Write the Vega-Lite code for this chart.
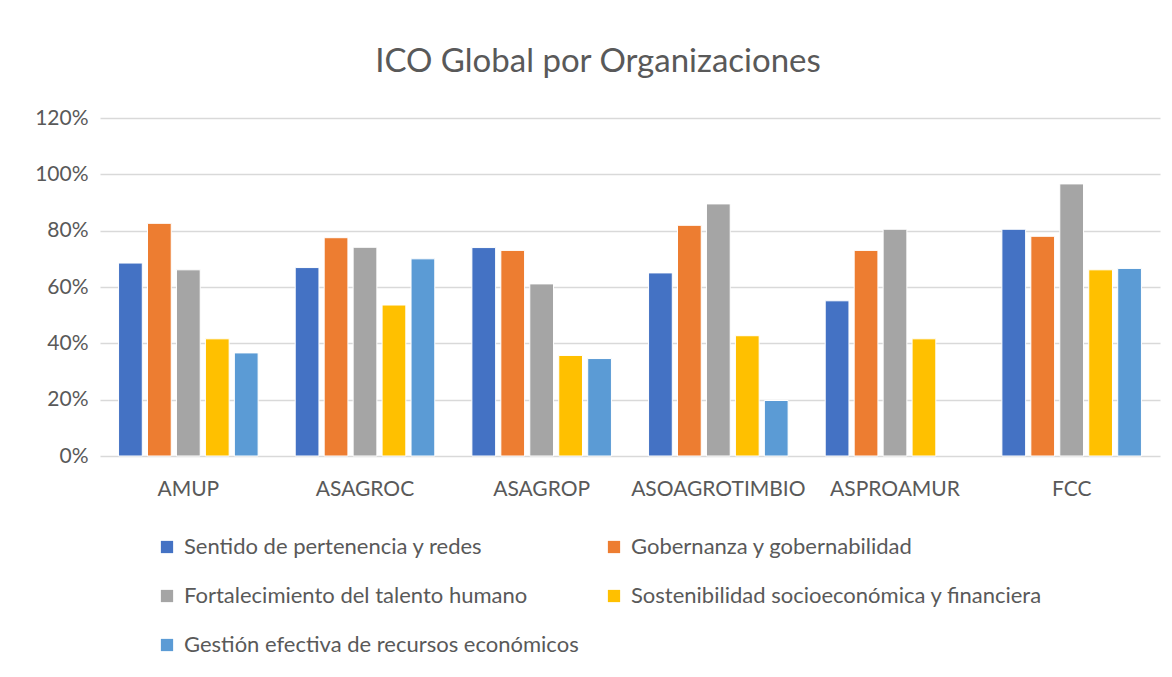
{
  "$schema": "https://vega.github.io/schema/vega-lite/v6.json",
  "autosize": {"type": "none"},
  "width": 1060,
  "height": 338,
  "padding": {"left": 100, "top": 118, "right": 12, "bottom": 221},
  "background": "white",
  "title": {
    "text": "ICO Global por Organizaciones",
    "anchor": "middle",
    "font": "Lato",
    "fontSize": 33,
    "fontWeight": "normal",
    "color": "#595959",
    "offset": 28,
    "dx": -32
  },
  "config": {
    "view": {"stroke": null},
    "font": "Lato"
  },
  "data": {
    "values": [
      {"org": "AMUP", "dim": "Sentido de pertenencia y redes", "value": 0.685},
      {"org": "AMUP", "dim": "Gobernanza y gobernabilidad", "value": 0.826},
      {"org": "AMUP", "dim": "Fortalecimiento del talento humano", "value": 0.661},
      {"org": "AMUP", "dim": "Sostenibilidad socioeconómica y financiera", "value": 0.416},
      {"org": "AMUP", "dim": "Gestión efectiva de recursos económicos", "value": 0.366},
      {"org": "ASAGROC", "dim": "Sentido de pertenencia y redes", "value": 0.669},
      {"org": "ASAGROC", "dim": "Gobernanza y gobernabilidad", "value": 0.775},
      {"org": "ASAGROC", "dim": "Fortalecimiento del talento humano", "value": 0.741},
      {"org": "ASAGROC", "dim": "Sostenibilidad socioeconómica y financiera", "value": 0.536},
      {"org": "ASAGROC", "dim": "Gestión efectiva de recursos económicos", "value": 0.700},
      {"org": "ASAGROP", "dim": "Sentido de pertenencia y redes", "value": 0.740},
      {"org": "ASAGROP", "dim": "Gobernanza y gobernabilidad", "value": 0.730},
      {"org": "ASAGROP", "dim": "Fortalecimiento del talento humano", "value": 0.611},
      {"org": "ASAGROP", "dim": "Sostenibilidad socioeconómica y financiera", "value": 0.357},
      {"org": "ASAGROP", "dim": "Gestión efectiva de recursos económicos", "value": 0.346},
      {"org": "ASOAGROTIMBIO", "dim": "Sentido de pertenencia y redes", "value": 0.650},
      {"org": "ASOAGROTIMBIO", "dim": "Gobernanza y gobernabilidad", "value": 0.819},
      {"org": "ASOAGROTIMBIO", "dim": "Fortalecimiento del talento humano", "value": 0.895},
      {"org": "ASOAGROTIMBIO", "dim": "Sostenibilidad socioeconómica y financiera", "value": 0.427},
      {"org": "ASOAGROTIMBIO", "dim": "Gestión efectiva de recursos económicos", "value": 0.197},
      {"org": "ASPROAMUR", "dim": "Sentido de pertenencia y redes", "value": 0.551},
      {"org": "ASPROAMUR", "dim": "Gobernanza y gobernabilidad", "value": 0.730},
      {"org": "ASPROAMUR", "dim": "Fortalecimiento del talento humano", "value": 0.805},
      {"org": "ASPROAMUR", "dim": "Sostenibilidad socioeconómica y financiera", "value": 0.416},
      {"org": "FCC", "dim": "Sentido de pertenencia y redes", "value": 0.805},
      {"org": "FCC", "dim": "Gobernanza y gobernabilidad", "value": 0.780},
      {"org": "FCC", "dim": "Fortalecimiento del talento humano", "value": 0.966},
      {"org": "FCC", "dim": "Sostenibilidad socioeconómica y financiera", "value": 0.661},
      {"org": "FCC", "dim": "Gestión efectiva de recursos económicos", "value": 0.666}
    ]
  },
  "mark": {"type": "bar", "stroke": "white", "strokeWidth": 1},
  "encoding": {
    "x": {
      "field": "org",
      "type": "nominal",
      "sort": ["AMUP", "ASAGROC", "ASAGROP", "ASOAGROTIMBIO", "ASPROAMUR", "FCC"],
      "scale": {"paddingInner": 0.21, "paddingOuter": 0.105},
      "axis": {
        "title": null,
        "labelAngle": 0,
        "labelFontSize": 21,
        "labelColor": "#595959",
        "labelPadding": 22,
        "ticks": false,
        "domain": false,
        "grid": false
      }
    },
    "xOffset": {
      "field": "dim",
      "type": "nominal",
      "sort": [
        "Sentido de pertenencia y redes",
        "Gobernanza y gobernabilidad",
        "Fortalecimiento del talento humano",
        "Sostenibilidad socioeconómica y financiera",
        "Gestión efectiva de recursos económicos"
      ],
      "scale": {"paddingInner": 0.18, "paddingOuter": 0}
    },
    "y": {
      "field": "value",
      "type": "quantitative",
      "scale": {"domain": [0, 1.2], "nice": false},
      "axis": {
        "title": null,
        "values": [0, 0.2, 0.4, 0.6, 0.8, 1.0, 1.2],
        "format": ".0%",
        "labelFontSize": 21,
        "labelColor": "#595959",
        "labelPadding": 12,
        "ticks": false,
        "domain": false,
        "grid": true,
        "gridColor": "#d9d9d9",
        "gridWidth": 1.5
      }
    },
    "color": {
      "field": "dim",
      "type": "nominal",
      "sort": [
        "Sentido de pertenencia y redes",
        "Gobernanza y gobernabilidad",
        "Fortalecimiento del talento humano",
        "Sostenibilidad socioeconómica y financiera",
        "Gestión efectiva de recursos económicos"
      ],
      "scale": {"range": ["#4472C4", "#ED7D31", "#A5A5A5", "#FFC000", "#5B9BD5"]},
      "legend": {
        "title": null,
        "orient": "none",
        "direction": "horizontal",
        "legendX": 56,
        "legendY": 418,
        "columns": 2,
        "columnPadding": 24,
        "rowPadding": 27,
        "symbolType": "square",
        "symbolSize": 150,
        "symbolStrokeWidth": 0,
        "labelFontSize": 22,
        "labelColor": "#595959",
        "labelLimit": 600,
        "labelOffset": 6
      }
    }
  }
}
